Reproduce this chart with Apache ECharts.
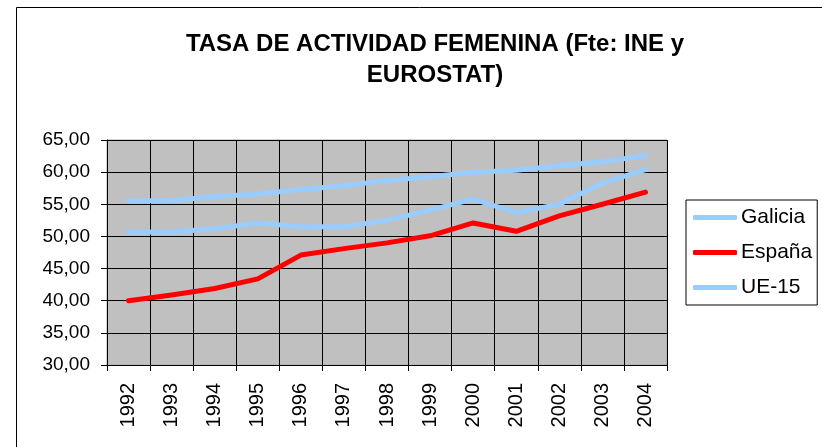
<!DOCTYPE html>
<html><head><meta charset="utf-8">
<script src="https://cdn.jsdelivr.net/npm/echarts@6/dist/echarts.min.js"></script>
<style>html,body{margin:0;padding:0;background:#fff}#c{width:822px;height:447px}</style>
</head><body><div id="c"></div>
<script>
var years = ['1992','1993','1994','1995','1996','1997','1998','1999','2000','2001','2002','2003','2004'];
var galicia = [50.7,50.7,51.2,52.1,51.5,51.5,52.5,54.1,55.8,53.7,55.0,58.3,60.4];
var espana = [40.0,40.9,41.9,43.4,47.1,48.1,49.0,50.1,52.1,50.8,53.2,55.0,56.9];
var ue15 = [55.5,55.6,56.2,56.6,57.3,57.9,58.7,59.3,60.0,60.3,61.0,61.6,62.6];
var yTicks = {min:30, max:65, interval:5};

var chart = echarts.init(document.getElementById('c'));
var font = 'Liberation Sans, Arial, sans-serif';
function ser(name, data, color){
  return {name:name, type:'line', data:data, symbol:'none', smooth:false,
    lineStyle:{color:color, width:5, cap:'round', join:'round'}, itemStyle:{color:color}};
}
chart.setOption({
  animation:false,
  graphic:[{type:'rect', shape:{x:16.5,y:7.5,width:830,height:460}, style:{fill:'none',stroke:'#000',lineWidth:1}, silent:true}],
  title:{text:'TASA DE ACTIVIDAD FEMENINA (Fte: INE y\nEUROSTAT)', left:430, top:24, textAlign:'center',
    textStyle:{fontFamily:font, fontWeight:'bold', fontSize:24, color:'#000', lineHeight:31}},
  legend:{orient:'vertical', left:686, top:200,
    data:['Galicia','España','UE-15'], itemWidth:44, itemHeight:5, itemGap:14, icon:'roundRect',
    padding:[7,5,7,7], borderColor:'#000', borderWidth:1, backgroundColor:'#fff',
    textStyle:{fontFamily:font, fontSize:21, color:'#000', padding:[0,0,0,-1]}},
  grid:{left:107, right:155, top:140, bottom:82, show:true, backgroundColor:'#C0C0C0', borderColor:'#A8A8A8', borderWidth:1},
  xAxis:{type:'category', data:years, boundaryGap:true,
    axisLine:{lineStyle:{color:'#000', width:1}},
    axisTick:{show:true, length:6, lineStyle:{color:'#000'}},
    splitLine:{show:true, lineStyle:{color:'#000', width:1}},
    axisLabel:{rotate:90, fontFamily:font, fontSize:20, color:'#000', margin:18}},
  yAxis:{type:'value', min:yTicks.min, max:yTicks.max, interval:yTicks.interval,
    axisLine:{show:true, lineStyle:{color:'#000'}},
    axisTick:{show:true, length:6, lineStyle:{color:'#000'}},
    splitLine:{show:true, lineStyle:{color:'#000', width:1}},
    axisLabel:{fontFamily:font, fontSize:19, color:'#000', margin:17,
      formatter:function(v){return v.toFixed(2).replace('.',',');}}},
  series:[ser('Galicia', galicia, '#99CCFF'), ser('España', espana, '#FF0000'), ser('UE-15', ue15, '#99CCFF')]
});
</script></body></html>
